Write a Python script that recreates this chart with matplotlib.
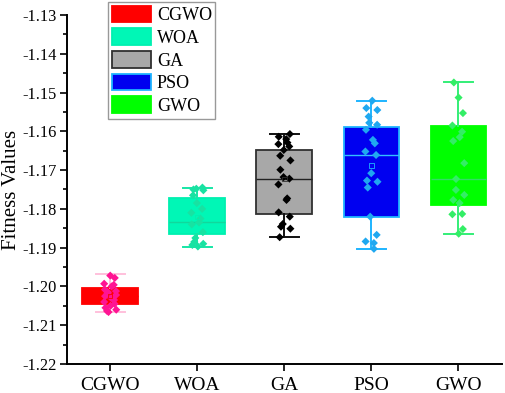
import numpy as np
import matplotlib
matplotlib.use("Agg")
import matplotlib.pyplot as plt
from matplotlib.patches import Patch
from matplotlib.ticker import MultipleLocator, FormatStrFormatter

plt.rcParams['font.family'] = ['Liberation Serif', 'DejaVu Serif']
plt.rcParams['axes.unicode_minus'] = False

categories = ["CGWO", "WOA", "GA", "PSO", "GWO"]

# box statistics
q1 = [-1.2045, -1.1864, -1.1813, -1.1820, -1.1791]
med = [-1.2025, -1.1834, -1.1722, -1.1661, -1.1723]
q3 = [-1.2004, -1.1772, -1.1648, -1.1588, -1.1586]
whislo = [-1.2066, -1.1897, -1.1873, -1.1903, -1.1864]
whishi = [-1.1968, -1.1745, -1.1607, -1.1521, -1.1474]

# individual runs
pts_cgwo = [-1.1972, -1.1978, -1.1993, -1.1996, -1.2000, -1.2008, -1.2012, -1.2015,
            -1.2018, -1.2022, -1.2025, -1.2030, -1.2035, -1.2040, -1.2045, -1.2050,
            -1.2055, -1.2060, -1.2063, -1.2066]
pts_woa = [-1.1745, -1.1748, -1.1750, -1.1752, -1.1765, -1.1785, -1.1800, -1.1810,
           -1.1825, -1.1835, -1.1840, -1.1860, -1.1875, -1.1885, -1.1890, -1.1893,
           -1.1897]
pts_ga = [-1.1607, -1.1614, -1.1620, -1.1629, -1.1633, -1.1639, -1.1648, -1.1663,
          -1.1675, -1.1699, -1.1718, -1.1722, -1.1737, -1.1773, -1.1777, -1.1809,
          -1.1820, -1.1839, -1.1846, -1.1851, -1.1873]
pts_pso = [-1.1521, -1.1540, -1.1545, -1.1562, -1.1578, -1.1583, -1.1596, -1.1622,
           -1.1631, -1.1652, -1.1661, -1.1708, -1.1727, -1.1730, -1.1745, -1.1820,
           -1.1867, -1.1884, -1.1888, -1.1903]
pts_gwo = [-1.1474, -1.1513, -1.1553, -1.1585, -1.1601, -1.1615, -1.1625, -1.1682,
           -1.1723, -1.1751, -1.1764, -1.1777, -1.1785, -1.1813, -1.1814, -1.1852,
           -1.1864]
points = [pts_cgwo, pts_woa, pts_ga, pts_pso, pts_gwo]

fills = ["#FF0000", "#00F7B6", "#A8A8A8", "#0000F0", "#00FF00"]
edges = ["#FF0000", "#00F0B0", "#303030", "#1EB4FF", "#00FF00"]
whisk = ["#FFC0DC", "#16E6A6", "#111111", "#1EB4FF", "#33EE77"]
medc = ["#FF0000", "#10D89C", "#222222", "#33C0FF", "#33DD66"]
ptc = ["#FF1493", "#18E2A2", "#000000", "#1FA8F0", "#33EE66"]

fig = plt.figure(figsize=(5.05, 3.93), dpi=100)
ax = fig.add_axes([66.7/505, 1-364/393, (502-66.7)/505, (364-15)/393])

pos = np.arange(1, len(categories)+1)
for i in range(len(categories)):
    st = [dict(med=med[i], q1=q1[i], q3=q3[i], whislo=whislo[i], whishi=whishi[i],
               fliers=[], label=categories[i])]
    ax.bxp(st, positions=[pos[i]], widths=0.64, patch_artist=True, showfliers=False,
           boxprops=dict(facecolor=fills[i], edgecolor=edges[i], linewidth=1.3),
           whiskerprops=dict(color=whisk[i], linewidth=1.4),
           capprops=dict(color=whisk[i], linewidth=1.4),
           medianprops=dict(color=medc[i], linewidth=1.0),
           capwidths=0.33, zorder=2)
    n = len(points[i])
    jit = 0.07 * np.sin(np.arange(n) * 2.3 + i)
    ax.scatter(pos[i] + jit, points[i], marker='D', s=17, color=ptc[i],
               edgecolors='none', zorder=3)
    ax.scatter([pos[i]], [np.mean(points[i])], marker='s', s=10, facecolors='none',
               edgecolors=edges[i], linewidths=0.6, zorder=4)

ax.set_xlim(0.5, 5.5)
ax.set_ylim(-1.22, -1.13)
ax.set_xticks(pos)
ax.set_xticklabels(categories, fontsize=14)
ax.yaxis.set_major_locator(MultipleLocator(0.01))
ax.yaxis.set_minor_locator(MultipleLocator(0.005))
ax.yaxis.set_major_formatter(FormatStrFormatter('%.2f'))
ax.tick_params(axis='y', which='major', labelsize=11.8, length=5, width=1.2, direction='out', pad=2)
ax.tick_params(axis='y', which='minor', length=3, width=1.2, direction='out')
ax.tick_params(axis='x', which='major', length=5, width=1.2, direction='out', pad=4)
ax.spines['top'].set_visible(False)
ax.spines['right'].set_visible(False)
ax.spines['left'].set_linewidth(1.4)
ax.spines['bottom'].set_linewidth(1.4)
ax.set_ylabel("Fitness Values", fontsize=15)
ax.yaxis.set_label_coords(-0.106, 0.5)

handles = [Patch(facecolor=fills[i], edgecolor=edges[i], linewidth=1.3, label=categories[i])
           for i in range(len(categories))]
leg = fig.legend(handles=handles, loc='upper left', bbox_to_anchor=(108/505, 1-2/393),
                 fontsize=13, frameon=True, fancybox=False, framealpha=1,
                 edgecolor='#999999', handlelength=2.2, handleheight=1.05,
                 labelspacing=0.23, borderpad=0.2, handletextpad=0.3, borderaxespad=0)
leg.get_frame().set_linewidth(1.0)

fig.savefig("out.png", dpi=100)
